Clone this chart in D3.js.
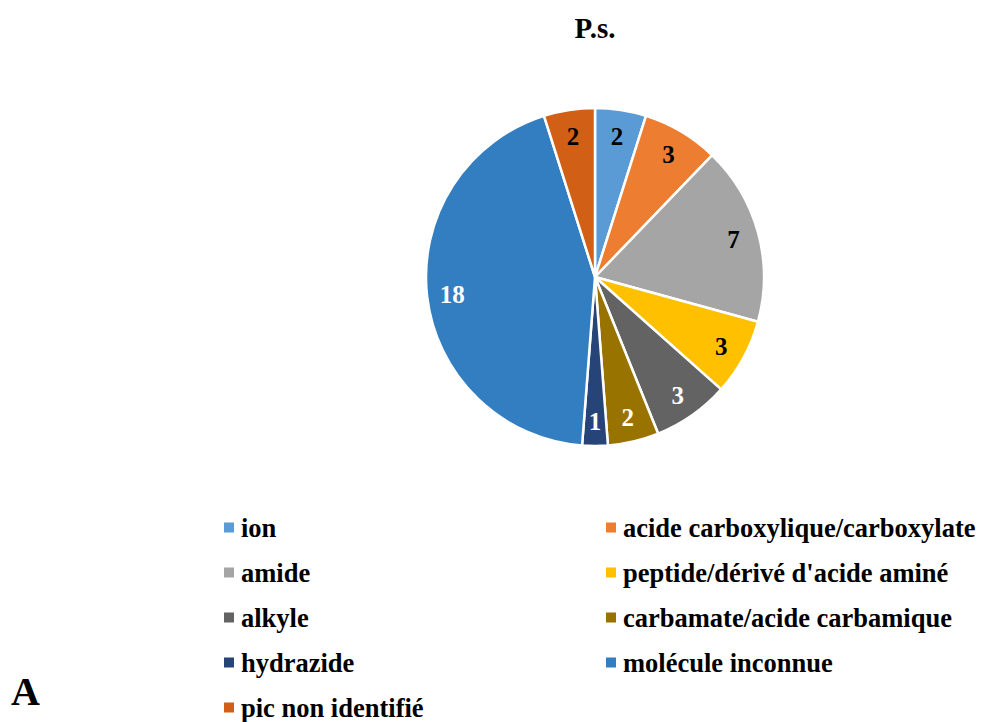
<!DOCTYPE html>
<html>
<head>
<meta charset="utf-8">
<script src="https://cdn.jsdelivr.net/npm/d3@7"></script>
<style>
  html, body { margin: 0; padding: 0; background: #fff; }
  svg { display: block; }
  svg text { font-family: "Liberation Serif", "DejaVu Serif", "Times New Roman", serif; }
</style>
</head>
<body>
<svg id="chart" width="981" height="722"></svg>
<script>
// Chemical classes and their counts
const categories = [
  "ion",
  "acide carboxylique/carboxylate",
  "amide",
  "peptide/dérivé d'acide aminé",
  "alkyle",
  "carbamate/acide carbamique",
  "hydrazide",
  "molécule inconnue",
  "pic non identifié"
];
const counts = [2, 3, 7, 3, 3, 2, 1, 18, 2];
const colors = ["#5B9BD5", "#ED7D31", "#A5A5A5", "#FFC000", "#636363", "#997300", "#264478", "#337DC1", "#D15F15"];
const labelColors = ["#000", "#000", "#000", "#000", "#fff", "#fff", "#fff", "#fff", "#000"];
const title = "P.s.";
const panelLetter = "A";

const data = categories.map((c, i) => ({ name: c, value: counts[i], color: colors[i], textColor: labelColors[i] }));

const svg = d3.select("#chart");

// Title
svg.append("text")
  .attr("x", 595).attr("y", 38)
  .attr("text-anchor", "middle")
  .attr("font-size", 29).attr("font-weight", "bold")
  .text(title);

// Pie
const cx = 595, cy = 277, R = 169;
const pie = d3.pie().sort(null).value(d => d.value);
const arc = d3.arc().innerRadius(0).outerRadius(R);
const labelArc = d3.arc().innerRadius(R * 0.85).outerRadius(R * 0.85);

const g = svg.append("g").attr("transform", `translate(${cx},${cy})`);
const arcs = pie(data);

g.selectAll("path.slice")
  .data(arcs)
  .join("path")
  .attr("class", "slice")
  .attr("d", arc)
  .attr("fill", d => d.data.color)
  .attr("stroke", "#fff")
  .attr("stroke-width", 2.5)
  .attr("stroke-linejoin", "round");

g.selectAll("text.val")
  .data(arcs)
  .join("text")
  .attr("class", "val")
  .attr("transform", d => `translate(${labelArc.centroid(d)})`)
  .attr("text-anchor", "middle")
  .attr("dy", "0.38em")
  .attr("font-size", 25).attr("font-weight", "bold")
  .attr("fill", d => d.data.textColor)
  .text(d => d.data.value);

// Legend: two columns
const legendCols = [224, 606];
const legendY0 = 536.5, legendStep = 45;
const legend = svg.append("g");
const items = legend.selectAll("g.item")
  .data(data)
  .join("g")
  .attr("class", "item")
  .attr("transform", (d, i) => `translate(${legendCols[i % 2]},${legendY0 + Math.floor(i / 2) * legendStep})`);

items.append("rect")
  .attr("x", 0).attr("y", -14)
  .attr("width", 10).attr("height", 10)
  .attr("fill", d => d.color);

items.append("text")
  .attr("x", 17).attr("y", 0)
  .attr("font-size", 26.5).attr("font-weight", "bold")
  .text(d => d.name);

// Panel letter
svg.append("text")
  .attr("x", 11).attr("y", 705)
  .attr("font-size", 40).attr("font-weight", "bold")
  .text(panelLetter);
</script>
</body>
</html>
